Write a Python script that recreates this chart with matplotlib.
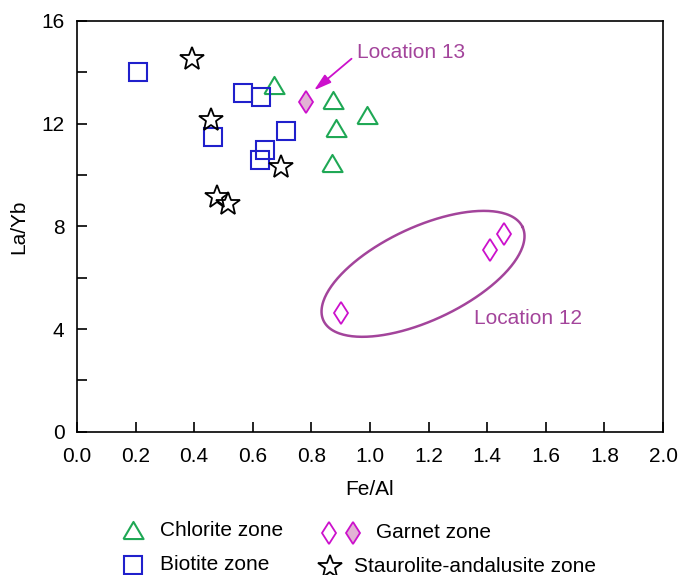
import numpy as np
import matplotlib
matplotlib.use('Agg')
import matplotlib.pyplot as plt
from matplotlib.lines import Line2D

plt.rcParams['font.family'] = ['Liberation Sans', 'DejaVu Sans']

# data (Fe/Al, La/Yb)
chlorite_x = [0.673, 0.874, 0.884, 0.990, 0.871]
chlorite_y = [13.50, 12.91, 11.85, 12.34, 10.48]

biotite_x = [0.209, 0.566, 0.627, 0.464, 0.712, 0.643, 0.625]
biotite_y = [14.02, 13.18, 13.05, 11.47, 11.72, 10.98, 10.60]

stauro_x = [0.392, 0.457, 0.697, 0.478, 0.515]
stauro_y = [14.51, 12.14, 10.33, 9.16, 8.86]

garnet12_x = [0.900, 1.411, 1.457]
garnet12_y = [4.64, 7.07, 7.72]

garnet13_x = [0.780]
garnet13_y = [12.86]

green = '#1fa855'
blue = '#2020cc'
magenta = '#cc11cc'
pink = '#e2b2d4'
purple = '#a3449b'
fs = 15

fig = plt.figure(figsize=(6.8, 5.75), dpi=100)
ax = fig.add_axes([0.1132, 0.2492, 0.8618, 0.7143])

tri = [(-1, -0.85), (1, -0.85), (0, 0.85), (-1, -0.85)]

ax.plot(chlorite_x, chlorite_y, ls='', marker=tri, ms=14.5, mfc='none', mec=green, mew=1.5)
ax.plot(biotite_x, biotite_y, ls='', marker='s', ms=12.3, mfc='none', mec=blue, mew=1.5)
ax.plot(stauro_x, stauro_y, ls='', marker='*', ms=18, mfc='none', mec='black', mew=1.3)
ax.plot(garnet12_x, garnet12_y, ls='', marker='d', ms=11.7, mfc='none', mec=magenta, mew=1.3)
ax.plot(garnet13_x, garnet13_y, ls='', marker='d', ms=11.7, mfc=pink, mec=magenta, mew=1.3)

# ellipse around location 12 (drawn in pixel-like proportions)
t = np.linspace(0, 2 * np.pi, 300)
a, b, ang = 110.0, 46.6, np.deg2rad(25.2)
sx, sy = 293.0, 25.69
ex = 1.181 + (a * np.cos(ang) * np.cos(t) - b * np.sin(ang) * np.sin(t)) / sx
ey = 6.15 + (a * np.sin(ang) * np.cos(t) + b * np.cos(ang) * np.sin(t)) / sy
ax.plot(ex, ey, color=purple, lw=1.8)

ax.text(1.355, 4.42, 'Location 12', color=purple, fontsize=fs, va='center', ha='left')
ax.text(0.956, 14.77, 'Location 13', color=purple, fontsize=fs, va='center', ha='left')
ax.annotate('', xy=(0.809, 13.3), xytext=(0.937, 14.53),
            arrowprops=dict(arrowstyle='-|>,head_length=0.75,head_width=0.22',
                            color=magenta, lw=1.3,
                            mutation_scale=14, shrinkA=0, shrinkB=0))

ax.set_xlim(0, 2.0)
ax.set_ylim(0, 16)
ax.set_xticks(np.arange(0, 2.01, 0.2))
ax.set_xticklabels(['%.1f' % v for v in np.arange(0, 2.01, 0.2)])
ax.set_yticks(np.arange(0, 17, 2))
ax.set_yticklabels(['0', '', '4', '', '8', '', '12', '', '16'])
ax.tick_params(direction='in', length=7.5, width=1.2, labelsize=fs)
ax.tick_params(axis='x', pad=11)
ax.tick_params(axis='y', pad=9)
for s in ax.spines.values():
    s.set_linewidth(1.2)
ax.set_xlabel('Fe/Al', fontsize=fs, labelpad=10)
ax.set_ylabel('La/Yb', fontsize=fs, labelpad=9)

# hand-built legend below the axes
def leg_marker(x, y, **kw):
    fig.add_artist(Line2D([x], [y], transform=fig.transFigure, ls='', **kw))

fy1, fy2 = 1 - 530 / 575, 1 - 565 / 575
leg_marker(133 / 680, fy1, marker=tri, ms=14.5, mfc='none', mec=green, mew=1.5)
fig.text(160 / 680, fy1, 'Chlorite zone', fontsize=fs, va='center')
leg_marker(133 / 680, fy2, marker='s', ms=12.3, mfc='none', mec=blue, mew=1.5)
fig.text(160 / 680, fy2, 'Biotite zone', fontsize=fs, va='center')
leg_marker(329 / 680, 1 - 533 / 575, marker='d', ms=11.7, mfc='none', mec=magenta, mew=1.3)
leg_marker(353 / 680, 1 - 533 / 575, marker='d', ms=11.7, mfc=pink, mec=magenta, mew=1.3)
fig.text(376 / 680, 1 - 533 / 575, 'Garnet zone', fontsize=fs, va='center')
leg_marker(330 / 680, 1 - 567 / 575, marker='*', ms=18, mfc='none', mec='black', mew=1.3)
fig.text(354 / 680, 1 - 567 / 575, 'Staurolite-andalusite zone', fontsize=fs, va='center')

fig.savefig('out.png', dpi=100)
